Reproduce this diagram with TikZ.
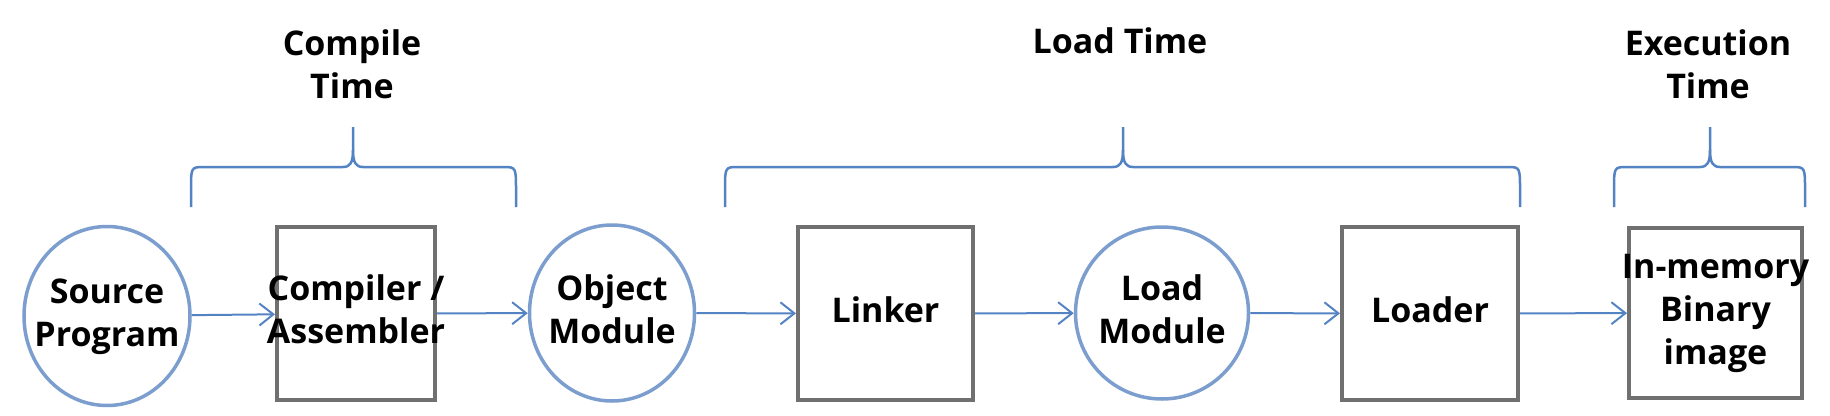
\documentclass[tikz,border=0pt]{standalone}
\usepackage{fontspec}
\setmainfont{Open Sans}
\usetikzlibrary{shapes.geometric,arrows.meta}
\definecolor{circblue}{RGB}{124,158,206}
\definecolor{arrblue}{RGB}{84,131,196}
\definecolor{boxgray}{RGB}{112,112,112}
\newcommand{\ctxt}[1]{\makebox[0pt]{\begin{tabular}{@{}c@{}}#1\end{tabular}}}
\begin{document}
\begin{tikzpicture}[x=1pt,y=-1pt,
  every node/.style={font=\fontsize{34}{43}\selectfont\bfseries, align=center, inner sep=0pt},
  circnode/.style={ellipse, draw=circblue, line width=3.5pt},
  boxnode/.style={rectangle, draw=boxgray, line width=4pt},
  conn/.style={draw=arrblue, line width=2pt, -{Straight Barb[length=14pt,width=22pt,line width=2pt]}},
  brace/.style={draw=arrblue, line width=2.5pt}
]
\useasboundingbox (0,0) rectangle (1830,415);
% nodes
\node[circnode, minimum width=166pt, minimum height=179pt] (src) at (107,316) {\ctxt{Source\\Program}};
\node[boxnode, minimum width=158pt, minimum height=173pt] (comp) at (356,313.5) {\ctxt{Compiler /\\Assembler}};
\node[circnode, minimum width=165pt, minimum height=176pt] (obj) at (612,313) {\ctxt{Object\\Module}};
\node[boxnode, minimum width=175pt, minimum height=173pt] (link) at (885.5,313.5) {\ctxt{Linker}};
\node[circnode, minimum width=173pt, minimum height=172pt] (load) at (1162,313) {\ctxt{Load\\Module}};
\node[boxnode, minimum width=176pt, minimum height=173pt] (ldr) at (1430,313.5) {\ctxt{Loader}};
\node[boxnode, minimum width=173pt, minimum height=170pt] (mem) at (1715.5,313) {\ctxt{In-memory\\Binary\\image}};
% connectors
\draw[conn] (src) -- (comp);
\draw[conn] (comp) -- (obj);
\draw[conn] (obj) -- (link);
\draw[conn] (link) -- (load);
\draw[conn] (load) -- (ldr);
\draw[conn] (ldr) -- (mem);
% braces
\foreach \a/\m/\b in {191/353/516, 725/1123/1520, 1614/1710/1805}{
  \draw[brace] (\a,207) -- (\a,190) .. controls (\a,168) and (\a,167) .. (\a+12,167)
    -- (\m-10,167) .. controls (\m-3,167) and (\m,163) .. (\m,150) -- (\m,127);
  \draw[brace] (\b,207) -- (\b,190) .. controls (\b,168) and (\b,167) .. (\b-12,167)
    -- (\m+10,167) .. controls (\m+3,167) and (\m,163) .. (\m,150);
}
% labels
\node (tcomp) at (352,64) {Compile\\Time};
\node (tload) at (1120,41) {Load Time};
\node (texec) at (1708,64) {Execution\\Time};
\end{tikzpicture}
\end{document}
